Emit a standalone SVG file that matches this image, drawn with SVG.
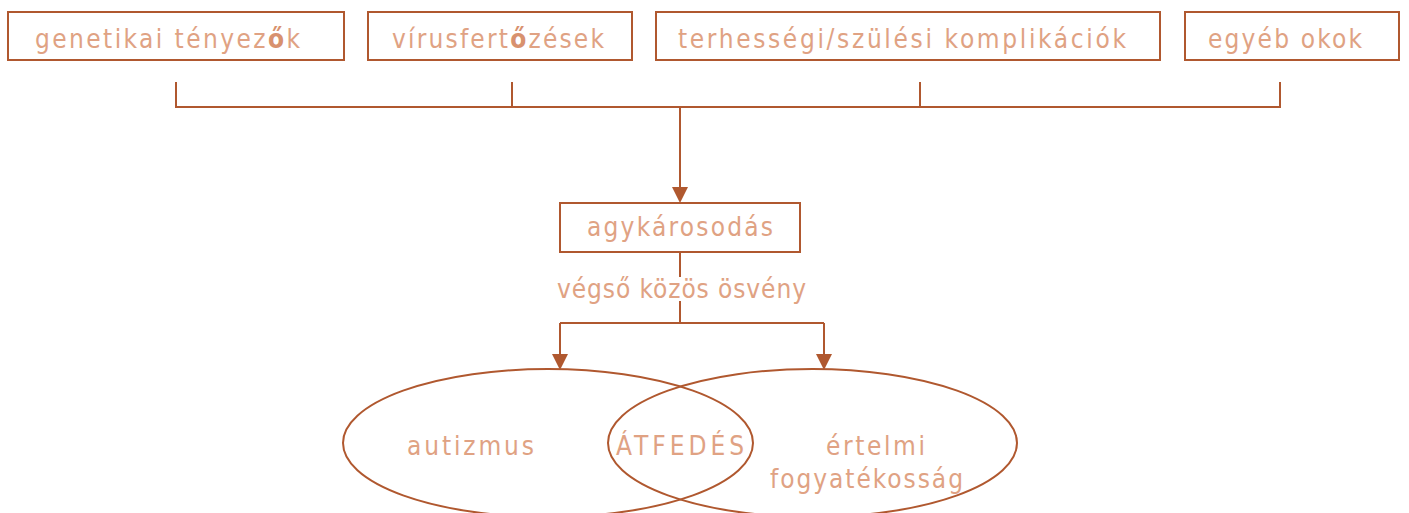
<svg xmlns="http://www.w3.org/2000/svg" width="1409" height="513" viewBox="0 0 1409 513">
<defs>
<style>
.box{fill:#ffffff;stroke:#B0582F;stroke-width:2}
.ln{fill:none;stroke:#B0582F;stroke-width:2}
.el{fill:none;stroke:#B0582F;stroke-width:2}
.t{font-family:"DejaVu Sans Condensed","Liberation Sans",sans-serif;font-size:26px;fill:#E0A283}
.b{font-weight:bold;fill:#D8916E}
</style>
</defs>
<rect width="1409" height="513" fill="#ffffff"/>
<g id="connectors">
<path class="ln" d="M176,82 V107 H1280 V82 M512,82 V107 M920,82 V107"/>
<path class="ln" d="M680,107 V188"/>
<path d="M672,187 L688,187 L680,203 Z" fill="#B0582F"/>
<path class="ln" d="M680,252 V277 M680,301 V323 M560,323 H824 M560,323 V355 M824,323 V355"/>
<path d="M552,354 L568,354 L560,370 Z" fill="#B0582F"/>
<path d="M816,354 L832,354 L824,370 Z" fill="#B0582F"/>
</g>
<g id="n-genetikai">
<rect class="box" x="8" y="12" width="336" height="48"/>
<text class="t" x="35" y="48" textLength="265" lengthAdjust="spacing">genetikai tényez<tspan class="b">ő</tspan>k</text>
</g>
<g id="n-virus">
<rect class="box" x="368" y="12" width="264" height="48"/>
<text class="t" x="392" y="48" textLength="212" lengthAdjust="spacing">vírusfert<tspan class="b">ő</tspan>zések</text>
</g>
<g id="n-terhessegi">
<rect class="box" x="656" y="12" width="504" height="48"/>
<text class="t" x="678" y="48" textLength="448" lengthAdjust="spacing">terhességi/szülési komplikációk</text>
</g>
<g id="n-egyeb">
<rect class="box" x="1185" y="12" width="214" height="48"/>
<text class="t" x="1208" y="48" textLength="154" lengthAdjust="spacing">egyéb okok</text>
</g>
<g id="n-agykarosodas">
<rect class="box" x="560" y="203" width="240" height="49"/>
<text class="t" x="587" y="236" textLength="186" lengthAdjust="spacing">agykárosodás</text>
</g>
<g id="label-vegso">
<text class="t" x="557" y="298" textLength="249" lengthAdjust="spacing">végső közös ösvény</text>
</g>
<g id="n-autizmus">
<ellipse class="el" cx="548" cy="443" rx="205" ry="74"/>
<text class="t" x="407" y="455" textLength="127" lengthAdjust="spacing">autizmus</text>
</g>
<g id="n-ertelmi">
<ellipse class="el" cx="812.5" cy="443" rx="204.5" ry="74"/>
<text class="t" x="826" y="455" textLength="99" lengthAdjust="spacing">értelmi</text>
<text class="t" x="770" y="488" textLength="193" lengthAdjust="spacing">fogyatékosság</text>
</g>
<g id="n-atfedes">
<text class="t" x="616" y="455" textLength="128" lengthAdjust="spacing">ÁTFEDÉS</text>
</g>
</svg>
